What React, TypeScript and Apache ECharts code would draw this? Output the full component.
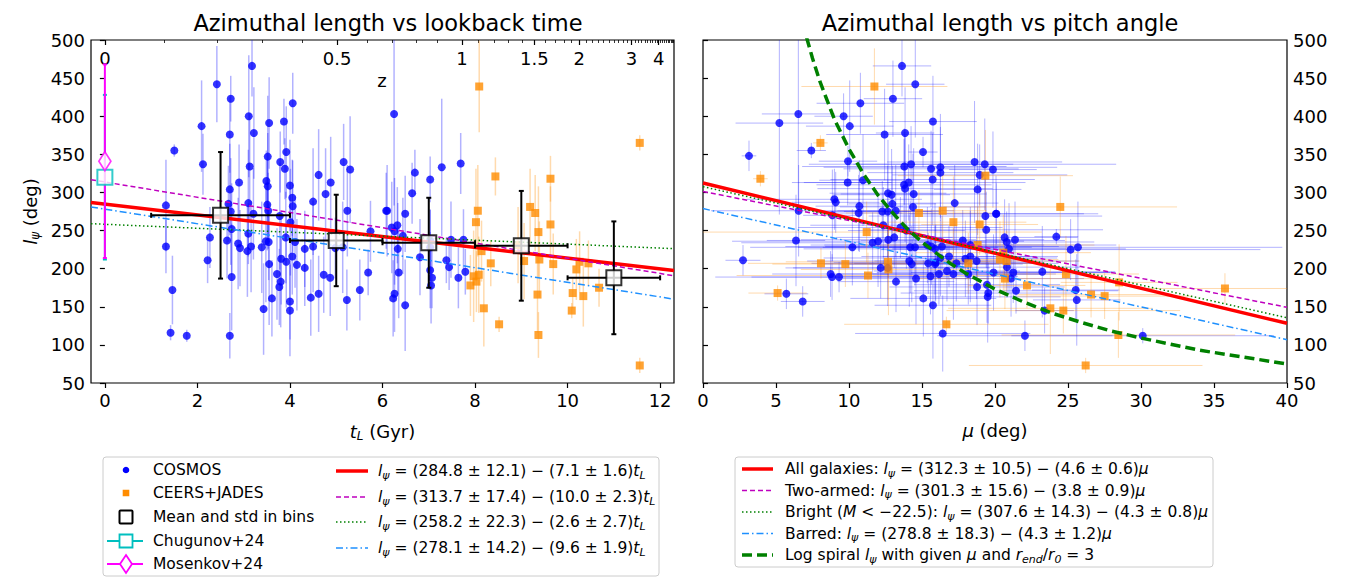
import React, { useEffect, useRef } from 'react';
import * as echarts from 'echarts';

const FONT = 'DejaVu Sans';

// ---------- Left panel: l_psi vs lookback time  [t (Gyr), l (deg), l error] ----------
const cosmosVsTime: number[][] = [
  [1.32, 283, 60], [1.32, 229, 35], [1.46, 172, 45], [1.42, 116, 10], [1.77, 112, 8], [1.50, 355, 8],
  [2.09, 387, 60], [2.12, 337, 40], [2.27, 241, 40], [2.22, 211, 30], [2.42, 442, 50], [2.72, 423, 30],
  [2.70, 376, 50], [2.70, 304, 60], [2.67, 285, 50], [2.72, 275, 70], [2.74, 252, 60], [2.64, 237, 50],
  [2.74, 189, 70], [2.70, 112, 30], [2.90, 313, 50], [2.88, 233, 60], [2.92, 227, 50], [3.18, 466, 40],
  [3.11, 400, 80], [3.13, 334, 70], [3.22, 378, 60], [3.10, 286, 70], [3.21, 272, 60], [3.08, 223, 60],
  [3.10, 246, 40], [3.16, 229, 60], [3.55, 391, 60], [3.52, 347, 80], [3.49, 315, 40], [3.52, 308, 70],
  [3.51, 284, 60], [3.53, 276, 50], [3.39, 228, 60], [3.48, 236, 80], [3.54, 235, 50], [3.55, 206, 80],
  [3.43, 147, 60], [3.61, 161, 50], [4.06, 417, 40], [3.87, 393, 30], [3.92, 353, 60], [3.79, 340, 40],
  [3.89, 331, 40], [4.00, 309, 60], [4.05, 293, 50], [4.06, 282, 60], [3.78, 269, 70], [4.01, 261, 70],
  [3.91, 241, 60], [4.11, 235, 60], [4.05, 216, 50], [3.81, 213, 60], [3.92, 209, 60], [3.72, 193, 60],
  [3.80, 183, 60], [3.77, 176, 50], [4.00, 157, 50], [4.00, 145, 60], [4.15, 205, 60], [4.32, 201, 50],
  [4.32, 226, 50], [4.50, 229, 60], [4.50, 288, 70], [4.62, 323, 60], [4.77, 298, 60], [4.88, 313, 60],
  [4.45, 162, 50], [4.62, 167, 50], [4.73, 192, 50], [4.87, 188, 50], [4.98, 227, 40], [5.16, 340, 50],
  [5.30, 330, 70], [5.24, 276, 60], [5.14, 228, 60], [5.23, 159, 40], [5.51, 172, 40], [5.69, 195, 30],
  [5.74, 249, 40], [6.08, 276, 50], [6.25, 403, 120], [6.10, 276, 60], [6.70, 326, 30], [6.64, 299, 40],
  [7.03, 317, 30], [7.28, 333, 90], [7.69, 338, 40], [6.49, 272, 50], [6.20, 254, 60], [6.26, 249, 70],
  [6.32, 257, 50], [6.44, 243, 50], [6.33, 226, 60], [6.35, 195, 60], [6.26, 167, 50], [6.23, 161, 50],
  [6.49, 152, 60], [6.81, 215, 50], [7.03, 237, 40], [7.03, 228, 50], [7.03, 198, 50], [7.07, 188, 40],
  [7.05, 178, 50], [7.38, 211, 30], [7.44, 202, 30], [7.48, 238, 50], [7.75, 238, 40], [7.64, 188, 40],
  [7.79, 196, 30],
];

const ceersVsTime: number[][] = [
  [8.09, 439, 60], [8.44, 321, 25], [8.06, 276, 60], [8.02, 261, 70], [8.14, 223, 40], [8.34, 207, 30],
  [7.97, 190, 60], [8.08, 192, 50], [8.03, 183, 40], [7.90, 178, 40], [8.19, 148, 50], [8.52, 127, 10],
  [9.19, 281, 50], [9.30, 273, 50], [9.63, 318, 30], [9.63, 258, 50], [9.37, 248, 60], [8.93, 231, 50],
  [9.06, 210, 50], [9.39, 212, 50], [9.69, 206, 40], [9.35, 166, 50], [9.37, 113, 30], [10.19, 199, 40],
  [10.26, 209, 40], [10.45, 207, 30], [10.11, 168, 20], [10.34, 164, 40], [10.68, 175, 25], [10.09, 145, 10],
  [11.56, 365, 10], [11.56, 73, 10],
];

// mean and std in bins: [t, l, t half-width, l std]
const binMeans: number[][] = [
  [2.5, 270, 1.5, 83], [5.0, 237, 1.0, 60], [7.0, 234, 1.0, 59], [9.0, 230, 1.0, 72], [11.0, 188, 1.0, 74],
];
const chugunov: number[][] = [[0, 320, 0, 108]];
const mosenkov: number[][] = [[0, 341, 0, 127]];

// fit lines (values at the ends of the time axis)
const fitTimeAll: number[][] = [[-0.3, 286.9], [12.3, 197.5]];
const fitTimeTwoArm: number[][] = [[-0.3, 316.7], [12.3, 190.7]];
const fitTimeBright: number[][] = [[-0.3, 259.0], [12.3, 226.2]];
const fitTimeBarred: number[][] = [[-0.3, 281.0], [12.3, 160.0]];

// top axis: redshift labels and their lookback times
const zMajorLabels = ['0', '0.5', '1', '1.5', '2', '3', '4'];
const zMajorTimes = [0, 5.02, 7.72, 9.28, 10.25, 11.38, 11.97];
const zMinorTimes = [
  1.29, 2.42, 3.41, 4.27, 5.66, 6.22, 6.72, 7.19, 8.08, 8.41, 8.72, 9.01, 9.52, 9.73, 9.92, 10.09,
  10.40, 10.53, 10.66, 10.78, 10.89, 11.00, 11.10, 11.20, 11.29, 11.46, 11.53, 11.60, 11.67, 11.73,
  11.79, 11.84, 11.89, 11.93, 12.01, 12.05, 12.09, 12.13, 12.17, 12.20, 12.23, 12.26, 12.29,
];
const timeTicks = [0, 2, 4, 6, 8, 10, 12];

// ---------- Right panel: l_psi vs pitch angle [mu, l, mu error, l error] ----------
const cosmosVsPitch: number[][] = [
  [3.15, 348, 0.5, 20], [2.74, 211, 1.2, 20], [5.23, 391, 3, 120], [6.53, 403, 2.5, 130], [7.42, 355, 1, 10],
  [6.55, 276, 6, 60], [6.37, 237, 2, 60], [5.71, 167, 1.5, 20], [6.83, 157, 1.5, 20], [8.74, 193, 4, 30],
  [8.84, 189, 8, 30], [9.32, 189, 6, 20], [8.86, 270, 2, 60], [9.0, 291, 6, 40], [9.09, 287, 3, 40],
  [9.63, 400, 2, 30], [10.05, 387, 3, 60], [9.93, 341, 2, 20], [9.91, 313, 3, 30], [10.23, 228, 7, 50],
  [10.78, 417, 3, 40], [10.96, 316, 3, 60], [10.71, 282, 3, 60], [10.66, 273, 3, 50], [12.44, 376, 4, 60],
  [13.63, 466, 2, 40], [14.54, 442, 2, 70], [13.01, 423, 2, 50], [13.84, 378, 2, 60], [15.75, 393, 3, 60],
  [15.07, 353, 1, 20], [13.79, 334, 7, 50], [14.25, 337, 7, 50], [13.77, 310, 6, 60], [14.09, 313, 8, 50],
  [13.84, 305, 6, 70], [14.43, 298, 5, 60], [12.92, 297, 4, 60], [12.67, 299, 4, 70], [12.65, 275, 3, 60],
  [12.28, 275, 4, 40], [12.97, 285, 3, 50], [13.2, 276, 4, 60], [14.38, 281, 5, 70], [15.62, 331, 6, 50],
  [16.26, 326, 5, 60], [16.26, 333, 8, 70], [15.73, 317, 7, 60], [17.24, 286, 3, 50], [18.6, 340, 6, 80],
  [19.3, 337, 9, 60], [18.95, 323, 6, 40], [19.86, 330, 3, 50], [18.81, 304, 3, 60], [19.34, 269, 8, 50],
  [19.4, 251, 8, 50], [20.07, 272, 7, 50], [12.35, 257, 5, 50], [12.69, 238, 6, 50], [13.1, 241, 4, 40],
  [13.52, 254, 7, 40], [11.62, 234, 9, 40], [11.99, 236, 10, 60], [12.17, 201, 6, 40], [12.65, 201, 7, 50],
  [13.22, 183, 4, 40], [14.13, 210, 7, 60], [14.3, 206, 6, 50], [13.93, 250, 4, 50], [14.2, 228, 6, 60],
  [14.52, 228, 8, 50], [14.59, 187, 5, 60], [15.09, 161, 5, 50], [15.75, 152, 4, 70], [15.37, 231, 8, 50],
  [15.64, 229, 10, 50], [15.89, 226, 9, 60], [16.37, 229, 8, 40], [16.85, 216, 6, 40], [16.26, 214, 8, 50],
  [15.94, 208, 7, 50], [15.9, 206, 6, 50], [15.43, 207, 8, 40], [15.58, 190, 6, 50], [16.16, 193, 7, 40],
  [16.71, 197, 5, 40], [17.15, 193, 6, 60], [17.79, 237, 7, 40], [18.31, 231, 10, 50], [18.31, 216, 6, 60],
  [18.74, 210, 7, 50], [17.97, 213, 5, 50], [17.35, 207, 7, 50], [18.17, 193, 6, 40], [18.77, 176, 6, 50],
  [19.45, 179, 5, 50], [19.54, 168, 6, 40], [19.5, 163, 5, 60], [19.9, 195, 8, 50], [16.42, 115, 6, 50],
  [20.09, 272, 6, 40], [20.66, 241, 5, 50], [20.8, 235, 6, 40], [21.37, 238, 2, 50], [20.96, 226, 8, 60],
  [20.82, 202, 5, 40], [21.25, 195, 7, 40], [21.1, 187, 5, 50], [21.44, 171, 7, 30], [22.05, 112, 6, 20],
  [23.4, 145, 2, 30], [23.24, 196, 5, 60], [24.2, 242, 1.5, 10], [25.18, 225, 13, 40], [25.68, 228, 14, 60],
  [25.53, 172, 3, 40], [25.6, 159, 3, 60], [30.12, 112, 9, 10],
];

const ceersVsPitch: number[][] = [
  [11.74, 439, 5, 50], [8.04, 365, 0.5, 10], [3.93, 318, 0.5, 10], [11.21, 248, 12, 40], [8.08, 207, 5, 20],
  [9.75, 206, 5, 30], [5.11, 168, 2, 10], [11.3, 191, 9, 30], [12.67, 209, 7, 50], [12.7, 199, 6, 60],
  [14.79, 273, 5, 30], [16.42, 276, 3, 50], [17.15, 261, 5, 60], [19.34, 322, 6, 60], [18.95, 258, 4, 40],
  [18.81, 231, 8, 50], [18.17, 207, 5, 40], [16.67, 127, 7, 10], [20.34, 212, 4, 50], [24.47, 281, 8, 40],
  [20.57, 221, 6, 50], [20.8, 210, 5, 40], [20.68, 187, 6, 40], [22.19, 178, 4, 30], [24.86, 193, 5, 50],
  [23.79, 148, 7, 60], [24.68, 145, 8, 30], [26.58, 166, 5, 30], [27.51, 164, 6, 30], [28.5, 182, 4, 50],
  [28.45, 113, 8, 30], [26.21, 73, 8, 10], [35.75, 174, 6, 20],
];

const fitPitchAll: number[][] = [[0, 312.3], [40, 128.3]];
const fitPitchTwoArm: number[][] = [[0, 301.3], [40, 149.3]];
const fitPitchBright: number[][] = [[0, 307.6], [40, 135.6]];
const fitPitchBarred: number[][] = [[0, 278.8], [40, 106.8]];
// log spiral curve [mu, l]
const logSpiral: number[][] = [
  [7.1, 503], [7.5, 476], [8, 446], [9, 396], [10, 357], [11, 324], [12, 296], [13, 273], [14, 252],
  [15, 235], [16, 220], [17, 206], [18, 194], [20, 173], [22, 156], [24, 141], [26, 129], [28, 118],
  [30, 109], [32, 101], [34, 93], [36, 87], [38, 81], [40, 75],
];

// ---------- helpers ----------
function makeErr(color: string, width: number, cap: number) {
  return (_params: any, api: any) => {
    const x = api.value(0), y = api.value(1), xe = api.value(2), ye = api.value(3);
    const st = { stroke: color, lineWidth: width };
    const ch: any[] = [];
    if (ye > 0) {
      const a = api.coord([x, y - ye]), b = api.coord([x, y + ye]);
      ch.push({ type: 'line', shape: { x1: a[0], y1: a[1], x2: b[0], y2: b[1] }, style: st });
      if (cap > 0) {
        ch.push({ type: 'line', shape: { x1: a[0] - cap, y1: a[1], x2: a[0] + cap, y2: a[1] }, style: st });
        ch.push({ type: 'line', shape: { x1: b[0] - cap, y1: b[1], x2: b[0] + cap, y2: b[1] }, style: st });
      }
    }
    if (xe > 0) {
      const a = api.coord([x - xe, y]), b = api.coord([x + xe, y]);
      ch.push({ type: 'line', shape: { x1: a[0], y1: a[1], x2: b[0], y2: b[1] }, style: st });
      if (cap > 0) {
        ch.push({ type: 'line', shape: { x1: a[0], y1: a[1] - cap, x2: a[0], y2: a[1] + cap }, style: st });
        ch.push({ type: 'line', shape: { x1: b[0], y1: b[1] - cap, x2: b[0], y2: b[1] + cap }, style: st });
      }
    }
    return { type: 'group', children: ch };
  };
}

const BLUE = '#0000ff';
const ORANGE = '#ff8c00';
const BLUE_ERR = 'rgba(0,0,255,0.3)';
const ORANGE_ERR = 'rgba(255,140,0,0.32)';
const RED = '#ff0000';
const MAGENTA_LINE = '#bf00bf';
const GREEN = '#008000';
const DODGER = '#1e90ff';
const CYAN = '#00bfbf';
const MAGENTA = '#ff00ff';

const LF = 15.5; // legend font size
const rich = {
  i: { fontStyle: 'italic', fontFamily: FONT, fontSize: LF, fill: '#000', color: '#000' },
  s: { fontStyle: 'italic', fontFamily: FONT, fontSize: 11, padding: [8, 0, 0, 0], fill: '#000', color: '#000' },
};

const eqL = (a: string, b: string) => `{i|l}{s|ψ} = (${a}) − (${b}){i|t}{s|L}`;
const eqM = (a: string, b: string) => `{i|l}{s|ψ} = (${a}) − (${b}){i|μ}`;

function legendText(x: number, y: number, text: string) {
  return {
    type: 'text', x, y, silent: true,
    style: { text, fontFamily: FONT, fontSize: LF, fill: '#000', verticalAlign: 'middle', rich },
  };
}
function legendLine(x1: number, x2: number, y: number, color: string, width: number, dash?: number[]) {
  return {
    type: 'line', silent: true, shape: { x1, y1: y, x2, y2: y },
    style: { stroke: color, lineWidth: width, lineDash: dash },
  };
}

function buildOption() {
  const axisFont = { fontFamily: FONT, fontSize: 18, color: '#000' };
  const errLeftCosmos = cosmosVsTime.map((d) => [d[0], d[1], 0, d[2]]);
  const errLeftCeers = ceersVsTime.map((d) => [d[0], d[1], 0, d[2]]);
  const c1 = 126; // left legend marker column centre
  const c2a = 336, c2b = 368, c2t = 378;
  const r1 = [470, 493, 517, 541, 564];
  const r2 = [471, 497, 522, 548];
  const rr = [469, 490.5, 512, 533.5, 555];
  const rA = 742, rB = 773, rT = 785;

  const graphic: any[] = [
    // left legend
    { type: 'rect', silent: true, shape: { x: 103, y: 457, width: 556, height: 119, r: 3 }, style: { fill: '#fff', stroke: '#cccccc', lineWidth: 1 } },
    { type: 'circle', silent: true, shape: { cx: c1, cy: r1[0], r: 3.3 }, style: { fill: BLUE } },
    legendText(153, r1[0], 'COSMOS'),
    { type: 'rect', silent: true, shape: { x: c1 - 3.3, y: r1[1] - 3.3, width: 6.6, height: 6.6 }, style: { fill: ORANGE } },
    legendText(153, r1[1], 'CEERS+JADES'),
    { type: 'rect', silent: true, shape: { x: c1 - 6.5, y: r1[2] - 6.5, width: 13, height: 13, r: 1 }, style: { fill: '#fff', stroke: '#000', lineWidth: 2 } },
    legendText(153, r1[2], 'Mean and std in bins'),
    legendLine(107, 143, r1[3], CYAN, 2),
    { type: 'rect', silent: true, shape: { x: c1 - 6.5, y: r1[3] - 6.5, width: 13, height: 13 }, style: { fill: '#fff', stroke: CYAN, lineWidth: 1.8 } },
    legendText(153, r1[3], 'Chugunov+24'),
    legendLine(107, 143, r1[4], MAGENTA, 2),
    { type: 'polygon', silent: true, shape: { points: [[c1, r1[4] - 9], [c1 + 6, r1[4]], [c1, r1[4] + 9], [c1 - 6, r1[4]]] }, style: { fill: '#fff', stroke: MAGENTA, lineWidth: 1.8 } },
    legendText(153, r1[4], 'Mosenkov+24'),
    legendLine(c2a, c2b, r2[0], RED, 3.5),
    legendText(c2t, r2[0], eqL('284.8 ± 12.1', '7.1 ± 1.6')),
    legendLine(c2a, c2b, r2[1], MAGENTA_LINE, 1.5, [5, 3]),
    legendText(c2t, r2[1], eqL('313.7 ± 17.4', '10.0 ± 2.3')),
    legendLine(c2a, c2b, r2[2], GREEN, 1.5, [1.5, 2.5]),
    legendText(c2t, r2[2], eqL('258.2 ± 22.3', '2.6 ± 2.7')),
    legendLine(c2a, c2b, r2[3], DODGER, 1.5, [7, 3, 1.5, 3]),
    legendText(c2t, r2[3], eqL('278.1 ± 14.2', '9.6 ± 1.9')),
    // right legend
    { type: 'rect', silent: true, shape: { x: 735, y: 457, width: 478, height: 110, r: 3 }, style: { fill: '#fff', stroke: '#cccccc', lineWidth: 1 } },
    legendLine(rA, rB, rr[0], RED, 3.5),
    legendText(rT, rr[0], 'All galaxies: ' + eqM('312.3 ± 10.5', '4.6 ± 0.6')),
    legendLine(rA, rB, rr[1], MAGENTA_LINE, 1.5, [5, 3]),
    legendText(rT, rr[1], 'Two-armed: ' + eqM('301.3 ± 15.6', '3.8 ± 0.9')),
    legendLine(rA, rB, rr[2], GREEN, 1.5, [1.5, 2.5]),
    legendText(rT, rr[2], 'Bright ({i|M} < −22.5): ' + eqM('307.6 ± 14.3', '4.3 ± 0.8')),
    legendLine(rA, rB, rr[3], DODGER, 1.5, [7, 3, 1.5, 3]),
    legendText(rT, rr[3], 'Barred: ' + eqM('278.8 ± 18.3', '4.3 ± 1.2')),
    legendLine(rA, rB, rr[4], GREEN, 3.5, [10, 5]),
    legendText(rT, rr[4], 'Log spiral {i|l}{s|ψ} with given {i|μ} and {i|r}{s|end}/{i|r}{s|0} = 3'),
    // label of the redshift axis
    { type: 'text', x: 382, y: 80, silent: true, style: { text: 'z', fontFamily: FONT, fontSize: 18, fill: '#000', align: 'center', verticalAlign: 'middle' } },
  ];

  return {
    animation: false,
    backgroundColor: '#fff',
    textStyle: { fontFamily: FONT },
    title: [
      { text: 'Azimuthal length vs lookback time', left: 383, top: 6, textAlign: 'center', textStyle: { fontFamily: FONT, fontSize: 22.5, fontWeight: 'normal', color: '#000' } },
      { text: 'Azimuthal length vs pitch angle', left: 995, top: 6, textAlign: 'center', textStyle: { fontFamily: FONT, fontSize: 22.5, fontWeight: 'normal', color: '#000' } },
    ],
    grid: [
      { left: 91, top: 40, width: 583, height: 343, show: true, borderColor: '#000', borderWidth: 1.2, backgroundColor: 'transparent' },
      { left: 703, top: 40, width: 584, height: 343, show: true, borderColor: '#000', borderWidth: 1.2, backgroundColor: 'transparent' },
    ],
    xAxis: [
      {
        type: 'value', gridIndex: 0, position: 'bottom', min: -0.3, max: 12.3,
        axisLine: { show: false }, splitLine: { show: false },
        axisTick: { show: true, customValues: timeTicks, length: 5, lineStyle: { color: '#000', width: 1.2 } },
        axisLabel: { customValues: timeTicks, margin: 8, ...axisFont },
        name: '{i|t}{s|L} (Gyr)', nameLocation: 'middle', nameGap: 38,
        nameTextStyle: { ...axisFont, rich: { i: { fontStyle: 'italic', fontSize: 18, fontFamily: FONT, color: '#000' }, s: { fontStyle: 'italic', fontSize: 12, fontFamily: FONT, color: '#000', padding: [9, 0, 0, 0] } } },
      },
      {
        type: 'value', gridIndex: 0, position: 'top', min: -0.3, max: 12.3,
        axisLine: { show: false }, splitLine: { show: false },
        axisTick: { show: true, inside: true, customValues: zMajorTimes, length: 5, lineStyle: { color: '#000', width: 1.2 } },
        axisLabel: {
          show: true, inside: true, customValues: zMajorTimes, margin: 9, ...axisFont,
          formatter: (v: number) => { const k = zMajorTimes.indexOf(v); return k >= 0 ? zMajorLabels[k] : ''; },
        },
      },
      {
        type: 'value', gridIndex: 0, position: 'top', min: -0.3, max: 12.3,
        axisLine: { show: false }, splitLine: { show: false }, axisLabel: { show: false },
        axisTick: { show: true, inside: true, customValues: zMinorTimes, length: 3, lineStyle: { color: '#000', width: 0.8 } },
      },
      {
        type: 'value', gridIndex: 1, position: 'bottom', min: 0, max: 40, interval: 5,
        axisLine: { show: false }, splitLine: { show: false },
        axisTick: { show: true, length: 5, lineStyle: { color: '#000', width: 1.2 } },
        axisLabel: { margin: 8, ...axisFont },
        name: '{i|μ} (deg)', nameLocation: 'middle', nameGap: 38,
        nameTextStyle: { ...axisFont, rich: { i: { fontStyle: 'italic', fontSize: 18, fontFamily: FONT, color: '#000' } } },
      },
    ],
    yAxis: [
      {
        type: 'value', gridIndex: 0, position: 'left', min: 50, max: 500, interval: 50,
        axisLine: { show: false }, splitLine: { show: false },
        axisTick: { show: true, length: 5, lineStyle: { color: '#000', width: 1.2 } },
        axisLabel: { margin: 6, ...axisFont },
        name: '{i|l}{s|ψ} (deg)', nameLocation: 'middle', nameGap: 50,
        nameTextStyle: { ...axisFont, rich: { i: { fontStyle: 'italic', fontSize: 18, fontFamily: FONT, color: '#000' }, s: { fontStyle: 'italic', fontSize: 12, fontFamily: FONT, color: '#000', padding: [9, 0, 0, 0] } } },
      },
      {
        type: 'value', gridIndex: 1, position: 'right', min: 50, max: 500, interval: 50,
        axisLine: { show: false }, splitLine: { show: false },
        axisTick: { show: true, length: 5, lineStyle: { color: '#000', width: 1.2 } },
        axisLabel: { margin: 6, ...axisFont },
      },
    ],
    graphic: { elements: graphic },
    series: [
      // ---- left panel ----
      { type: 'custom', name: 'COSMOS err', xAxisIndex: 0, yAxisIndex: 0, data: errLeftCosmos, encode: { x: 0, y: 1 }, renderItem: makeErr(BLUE_ERR, 1.5, 0), clip: true, silent: true, z: 1 },
      { type: 'custom', name: 'CEERS err', xAxisIndex: 0, yAxisIndex: 0, data: errLeftCeers, encode: { x: 0, y: 1 }, renderItem: makeErr(ORANGE_ERR, 1.5, 0), clip: true, silent: true, z: 1 },
      { type: 'scatter', name: 'COSMOS', xAxisIndex: 0, yAxisIndex: 0, data: cosmosVsTime.map((d) => [d[0], d[1]]), symbol: 'circle', symbolSize: 8, itemStyle: { color: BLUE }, z: 2 },
      { type: 'scatter', name: 'CEERS+JADES', xAxisIndex: 0, yAxisIndex: 0, data: ceersVsTime.map((d) => [d[0], d[1]]), symbol: 'rect', symbolSize: 8, itemStyle: { color: ORANGE }, z: 2 },
      { type: 'line', name: 'fit all t', xAxisIndex: 0, yAxisIndex: 0, data: fitTimeAll, symbol: 'none', lineStyle: { color: RED, width: 3.5 }, z: 3 },
      { type: 'line', name: 'fit two-armed t', xAxisIndex: 0, yAxisIndex: 0, data: fitTimeTwoArm, symbol: 'none', lineStyle: { color: MAGENTA_LINE, width: 1.5, type: [5, 3] }, z: 3 },
      { type: 'line', name: 'fit bright t', xAxisIndex: 0, yAxisIndex: 0, data: fitTimeBright, symbol: 'none', lineStyle: { color: GREEN, width: 1.5, type: [1.5, 2.5] }, z: 3 },
      { type: 'line', name: 'fit barred t', xAxisIndex: 0, yAxisIndex: 0, data: fitTimeBarred, symbol: 'none', lineStyle: { color: DODGER, width: 1.5, type: [7, 3, 1.5, 3] }, z: 3 },
      { type: 'custom', name: 'Chugunov err', xAxisIndex: 0, yAxisIndex: 0, data: chugunov, encode: { x: 0, y: 1 }, renderItem: makeErr(CYAN, 2, 2), clip: false, silent: true, z: 4 },
      { type: 'custom', name: 'Mosenkov err', xAxisIndex: 0, yAxisIndex: 0, data: mosenkov, encode: { x: 0, y: 1 }, renderItem: makeErr(MAGENTA, 2, 2), clip: false, silent: true, z: 4 },
      { type: 'scatter', name: 'Chugunov+24', xAxisIndex: 0, yAxisIndex: 0, data: chugunov.map((d) => [d[0], d[1]]), symbol: 'rect', symbolSize: 15, itemStyle: { color: '#fff', borderColor: CYAN, borderWidth: 2 }, z: 5 },
      { type: 'scatter', name: 'Mosenkov+24', xAxisIndex: 0, yAxisIndex: 0, data: mosenkov.map((d) => [d[0], d[1]]), symbol: 'diamond', symbolSize: [12, 19], itemStyle: { color: '#fff', borderColor: MAGENTA, borderWidth: 1.8 }, z: 5 },
      { type: 'custom', name: 'Mean err', xAxisIndex: 0, yAxisIndex: 0, data: binMeans, encode: { x: 0, y: 1 }, renderItem: makeErr('#000', 2, 2.5), clip: true, silent: true, z: 6 },
      { type: 'scatter', name: 'Mean and std in bins', xAxisIndex: 0, yAxisIndex: 0, data: binMeans.map((d) => [d[0], d[1]]), symbol: 'rect', symbolSize: 15, itemStyle: { color: '#fff', borderColor: '#000', borderWidth: 2 }, z: 7 },
      // ---- right panel ----
      { type: 'custom', name: 'COSMOS err mu', xAxisIndex: 3, yAxisIndex: 1, data: cosmosVsPitch, encode: { x: 0, y: 1 }, renderItem: makeErr(BLUE_ERR, 1, 0), clip: true, silent: true, z: 1 },
      { type: 'custom', name: 'CEERS err mu', xAxisIndex: 3, yAxisIndex: 1, data: ceersVsPitch, encode: { x: 0, y: 1 }, renderItem: makeErr(ORANGE_ERR, 1, 0), clip: true, silent: true, z: 1 },
      { type: 'scatter', name: 'COSMOS mu', xAxisIndex: 3, yAxisIndex: 1, data: cosmosVsPitch.map((d) => [d[0], d[1]]), symbol: 'circle', symbolSize: 8, itemStyle: { color: BLUE }, z: 2 },
      { type: 'scatter', name: 'CEERS mu', xAxisIndex: 3, yAxisIndex: 1, data: ceersVsPitch.map((d) => [d[0], d[1]]), symbol: 'rect', symbolSize: 8, itemStyle: { color: ORANGE }, z: 2 },
      { type: 'line', name: 'fit all mu', xAxisIndex: 3, yAxisIndex: 1, data: fitPitchAll, symbol: 'none', lineStyle: { color: RED, width: 3.5 }, z: 3 },
      { type: 'line', name: 'fit two-armed mu', xAxisIndex: 3, yAxisIndex: 1, data: fitPitchTwoArm, symbol: 'none', lineStyle: { color: MAGENTA_LINE, width: 1.5, type: [5, 3] }, z: 3 },
      { type: 'line', name: 'fit bright mu', xAxisIndex: 3, yAxisIndex: 1, data: fitPitchBright, symbol: 'none', lineStyle: { color: GREEN, width: 1.5, type: [1.5, 2.5] }, z: 3 },
      { type: 'line', name: 'fit barred mu', xAxisIndex: 3, yAxisIndex: 1, data: fitPitchBarred, symbol: 'none', lineStyle: { color: DODGER, width: 1.5, type: [7, 3, 1.5, 3] }, z: 3 },
      { type: 'line', name: 'log spiral', xAxisIndex: 3, yAxisIndex: 1, data: logSpiral, symbol: 'none', clip: true, lineStyle: { color: GREEN, width: 3.5, type: [10, 5] }, z: 3 },
    ],
  };
}

export default function App() {
  const ref = useRef<HTMLDivElement>(null);
  useEffect(() => {
    if (!ref.current) return;
    const chart = echarts.init(ref.current, null, { renderer: 'svg' });
    chart.setOption(buildOption() as any);
    return () => chart.dispose();
  }, []);
  return (
    <div
      ref={ref}
      style={{ position: 'fixed', left: 0, top: 0, width: 1351, height: 579, background: '#fff' }}
    />
  );
}
